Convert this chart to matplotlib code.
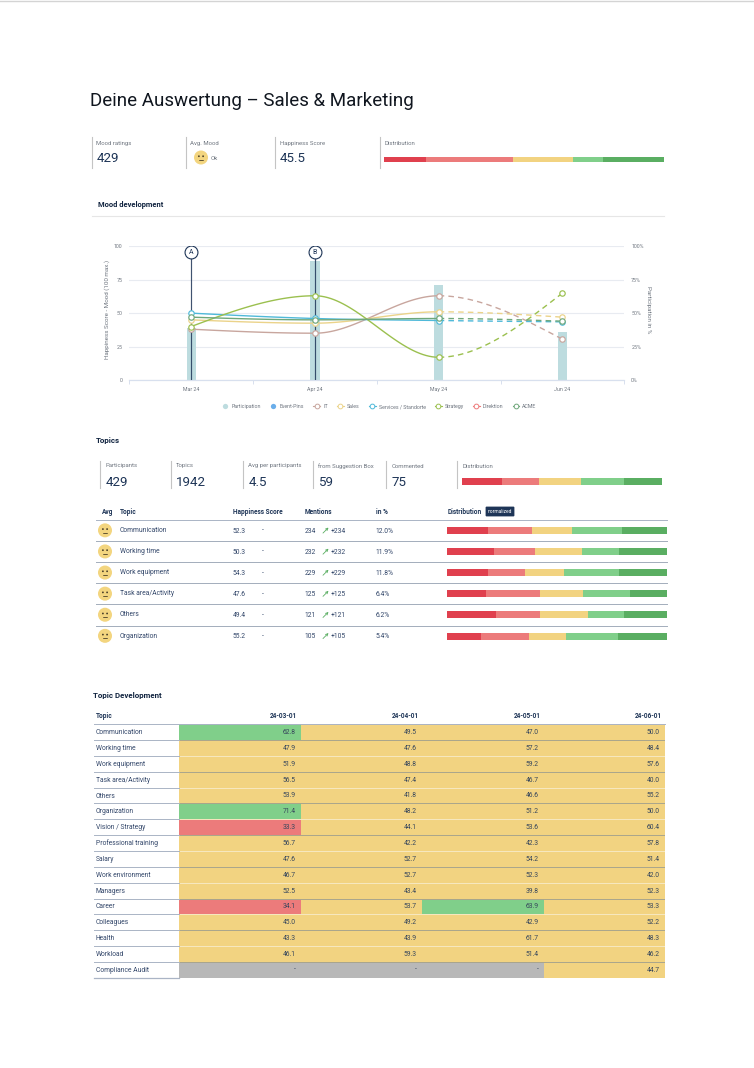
import numpy as np
import matplotlib
matplotlib.use("Agg")
import matplotlib.pyplot as plt
from matplotlib.colors import ListedColormap, BoundaryNorm
from matplotlib.lines import Line2D
from matplotlib.patches import Circle, FancyBboxPatch

plt.rcParams['font.family'] = ['Roboto', 'DejaVu Sans']

# ---------- data ----------
months = ["Mar 24", "Apr 24", "May 24", "Jun 24"]
participation = [39, 89, 71, 36]
pin_names = ["A", "B"]
pin_months = [0, 1]
pin_level = [95.5, 95.5]
series_it = [38, 35, 63, 30.5]
series_sales = [45, 42.5, 51, 47]
series_services = [50, 46, 44.5, 43.5]
series_strategy = [40, 63, 17, 65]
series_direktion = [np.nan, np.nan, np.nan, np.nan]
series_acme = [47, 45, 46, 44]

kpi1_labels = ["Mood ratings", "Avg. Mood", "Happiness Score", "Distribution"]
kpi1_values = ["429", "", "45.5", ""]
overall_dist = [15.0, 31.0, 21.4, 10.7, 21.9]

kpi2_labels = ["Participants", "Topics", "Avg per participants", "from Suggestion Box", "Commented", "Distribution"]
kpi2_values = ["429", "1942", "4.5", "59", "75", ""]
topics_dist = [20.0, 18.7, 20.9, 21.5, 18.9]

top_topics = ["Communication", "Working time", "Work equipment", "Task area/Activity", "Others", "Organization"]
top_scores = ["52.3", "50.3", "54.3", "47.6", "49.4", "55.2"]
top_mentions = [234, 232, 229, 125, 121, 105]
top_share = ["12.0%", "11.9%", "11.8%", "6.4%", "6.2%", "5.4%"]
top_dist = [
    [18.7, 20.1, 18.2, 22.5, 20.5],
    [21.3, 18.7, 21.4, 16.7, 21.9],
    [18.7, 16.7, 17.6, 25.2, 21.8],
    [17.6, 24.6, 19.8, 21.3, 16.7],
    [22.3, 19.8, 22.0, 16.4, 19.5],
    [15.2, 21.9, 17.0, 23.7, 22.2],
]

dev_dates = ["24-03-01", "24-04-01", "24-05-01", "24-06-01"]
dev_topics = ["Communication", "Working time", "Work equipment", "Task area/Activity", "Others",
              "Organization", "Vision / Strategy", "Professional training", "Salary",
              "Work environment", "Managers", "Career", "Colleagues", "Health", "Workload",
              "Compliance Audit"]
dev_mar = [62.8, 47.9, 51.9, 56.5, 53.9, 71.4, 33.3, 56.7, 47.6, 46.7, 52.5, 34.1, 45.0, 43.3, 46.1, np.nan]
dev_apr = [49.5, 47.6, 48.8, 47.4, 41.8, 48.2, 44.1, 42.2, 52.7, 52.7, 43.4, 53.7, 49.2, 43.9, 59.3, np.nan]
dev_may = [47.0, 57.2, 59.2, 46.7, 46.6, 51.2, 53.6, 42.3, 54.2, 52.3, 39.8, 63.9, 42.9, 61.7, 51.4, np.nan]
dev_jun = [50.0, 48.4, 57.6, 40.0, 55.2, 50.0, 60.4, 57.8, 51.4, 42.0, 52.3, 53.3, 52.2, 48.3, 46.2, 44.7]

# ---------- styles ----------
W, H = 754, 1068
NAVY = "#1e3557"
GREY = "#6f7680"
DIST_COLORS = ["#e0404e", "#ec7b7b", "#f2d381", "#80cf8a", "#5aae62"]
RULE = "#aab4c5"

fig = plt.figure(figsize=(W / 100, H / 100), dpi=100, facecolor="white")


def px_axes(left, top, right, bottom, **kw):
    return fig.add_axes([left / W, 1 - bottom / H, (right - left) / W, (bottom - top) / H], **kw)


ov = px_axes(0, 0, W, H)
ov.set_xlim(0, W)
ov.set_ylim(H, 0)
ov.axis("off")
ov.set_zorder(5)
ov.patch.set_alpha(0)


def T(x, y, s, size=5.0, color=NAVY, weight="normal", ha="left", va="center", **kw):
    return ov.text(x, y + 0.8, s, fontsize=size, color=color, fontweight=weight, ha=ha, va=va, **kw)


def face(x, y, r):
    ov.add_patch(Circle((x, y), r, fc="#f3d57f", ec="none"))
    for dx in (-0.3, 0.3):
        ov.add_patch(Circle((x + dx * r, y - 0.18 * r), 0.13 * r, fc="#4a3f28", ec="none"))
    ov.plot([x - 0.35 * r, x + 0.35 * r], [y + 0.35 * r, y + 0.35 * r], color="#4a3f28", lw=0.6,
            solid_capstyle="round")


def dist_bar(ax, rows, height):
    left = np.zeros(len(rows))
    arr = np.array(rows, dtype=float)
    for i, c in enumerate(DIST_COLORS):
        ax.barh(np.arange(len(rows)), arr[:, i], left=left, height=height, color=c, linewidth=0)
        left += arr[:, i]
    ax.set_xlim(0, left.max())
    ax.set_ylim(len(rows) - 0.5, -0.5)
    ax.axis("off")


def monotone_curve(x, y, n=40):
    x, y = np.asarray(x, float), np.asarray(y, float)
    h = np.diff(x)
    s = np.diff(y) / h
    m = np.zeros_like(y)
    for i in range(1, len(y) - 1):
        p = (s[i - 1] * h[i] + s[i] * h[i - 1]) / (h[i - 1] + h[i])
        m[i] = (np.sign(s[i - 1]) + np.sign(s[i])) * min(abs(s[i - 1]), abs(s[i]), 0.5 * abs(p))
    m[0] = (3 * s[0] - m[1]) / 2
    m[-1] = (3 * s[-1] - m[-2]) / 2
    xs, ys = [], []
    for i in range(len(h)):
        t = np.linspace(0, 1, n)
        a = (2 * t**3 - 3 * t**2 + 1) * y[i] + (t**3 - 2 * t**2 + t) * h[i] * m[i]
        b = (-2 * t**3 + 3 * t**2) * y[i + 1] + (t**3 - t**2) * h[i] * m[i + 1]
        xs.append(x[i] + t * h[i])
        ys.append(a + b)
    return xs, ys


# ---------- header ----------
ov.plot([0, W], [0.5, 0.5], color="#d4d4d4", lw=1)
T(90, 100.5, "Deine Auswertung \u2013 Sales & Marketing", size=13.5, color="#10161f")

for x, lab, val in zip([92, 186, 275, 380], kpi1_labels, kpi1_values):
    ov.plot([x, x], [137, 168], color="#c4c4c4", lw=0.8)
    T(x + 4.5, 143, lab, size=4.3, color=GREY)
    if val:
        T(x + 5, 158, val, size=9.6, color=NAVY)
face(201, 157.5, 7)
T(211, 158, "Ok", size=4.4, color=GREY)
dist_bar(px_axes(384, 157, 664, 162), [overall_dist], 1.0)

T(98, 204, "Mood development", size=5.4, weight="bold", color="#10233f")
ov.plot([92, 664], [215.5, 215.5], color="#e6e6e6", lw=0.8)

# ---------- mood chart ----------
ax = px_axes(129.3, 246.3, 624.3, 380)
ax.set_xlim(-0.5, 3.5)
ax.set_ylim(0, 100)
xpos = np.arange(len(months))
bars = ax.bar(xpos, participation, width=0.075, color="#bddcdf", linewidth=0, zorder=2, label="Participation")
ax.set_axisbelow(True)
ax.grid(axis="y", color="#e8ebf1", lw=0.8, zorder=0)
ax.set_xticks(xpos)
ax.set_xticklabels(months, fontsize=3.8, color=GREY)
ax.set_xticks(np.arange(-0.5, 4, 1), minor=True)
ax.tick_params(axis="x", which="major", length=0, pad=5)
ax.tick_params(axis="x", which="minor", length=3, color="#d8e0ee", width=0.7, direction="out")
for k in ("top", "left", "right"):
    ax.spines[k].set_visible(False)
ax.spines["bottom"].set_color("#d8e0ee")
ax.spines["bottom"].set_linewidth(0.9)

ln = ax.twinx()
ln.set_ylim(0, 100)
ln.set_xlim(-0.5, 3.5)
ln.yaxis.tick_left()
ln.set_yticks([0, 25, 50, 75, 100])
ln.set_yticklabels(["0", "25", "50", "75", "100"], fontsize=3.8, color=GREY)
ln.tick_params(axis="y", length=0, pad=5)
for s in ln.spines.values():
    s.set_visible(False)

ax.yaxis.tick_right()
ax.set_yticks([0, 25, 50, 75, 100])
ax.set_yticklabels(["0%", "25%", "50%", "75%", "100%"], fontsize=3.8, color=GREY)
ax.tick_params(axis="y", length=0, pad=5)

ln.vlines(pin_months, 0, pin_level, color=NAVY, lw=0.85, alpha=0.85, zorder=3)
ln.scatter(pin_months, pin_level, s=86, facecolor="white", edgecolor=NAVY, linewidth=0.8, zorder=6)
for mx, lv, nm in zip(pin_months, pin_level, pin_names):
    ln.text(mx, lv - 0.3, nm, fontsize=5, color=NAVY, ha="center", va="center", zorder=7)

all_series = [("IT", series_it, "#c8a69e"), ("Sales", series_sales, "#ebd38a"),
              ("Services / Standorte", series_services, "#4fb9d9"),
              ("Strategy", series_strategy, "#9bc04f"), ("Direktion", series_direktion, "#ee7c7c"),
              ("ACME", series_acme, "#6fa77b")]
handles = [Line2D([], [], ls="", marker="o", ms=3.8, mfc="#bddcdf", mec="none", label="Participation"),
           Line2D([], [], ls="", marker="o", ms=3.8, mfc="#6aaeea", mec="none", label="Event-Pins")]
for name, vals, col in all_series:
    handles.append(Line2D([], [], color=col, lw=0.8, marker="o", ms=3.4, mfc="white", mec=col, mew=0.7, label=name))
    if np.all(np.isnan(vals)):
        continue
    xs, ys = monotone_curve(xpos, vals)
    ln.plot(np.concatenate(xs[:2]), np.concatenate(ys[:2]), color=col, lw=1.0, zorder=4)
    ln.plot(xs[2], ys[2], color=col, lw=1.0, ls=(0, (4, 3)), zorder=4)
    ln.plot(xpos, vals, ls="", marker="o", ms=3.9, mfc="white", mec=col, mew=0.85, zorder=5)

T(107, 309, "Happiness Score - Mood (100 max.)", size=4.5, color=GREY, rotation=90, ha="center")
T(649, 309, "Participation in %", size=4.5, color=GREY, rotation=270, ha="center")
leg = ln.legend(handles=handles, ncols=8, loc="center", bbox_to_anchor=(379 / W, 1 - 406.7 / H),
                bbox_transform=fig.transFigure, frameon=False, fontsize=3.8, handlelength=1.3,
                handletextpad=0.55, columnspacing=1.75, borderpad=0)
for t in leg.get_texts():
    t.set_color(GREY)

# ---------- topics ----------
T(96, 440, "Topics", size=5.7, weight="bold", color="#10233f")
for x, lab, val in zip([100.3, 171.3, 243.3, 313.3, 386.3, 457.3], kpi2_labels, kpi2_values):
    ov.plot([x, x], [461, 487.7], color="#c4c4c4", lw=0.8)
    T(x + 5, 465.2, lab, size=4.3, color=GREY)
    if val:
        T(x + 5, 482, val, size=9.6, color=NAVY)
dist_bar(px_axes(462, 478.3, 661.7, 485), [topics_dist], 1.0)

for x, lab in zip([102, 119.7, 233, 304.3, 375.7, 447.3],
                  ["Avg", "Topic", "Happiness Score", "Mentions", "in %", "Distribution"]):
    T(x, 511, lab, size=4.7, weight="bold", color=NAVY)
ov.add_patch(FancyBboxPatch((486, 507), 28, 9, boxstyle="round,pad=0.4,rounding_size=1", fc=NAVY, ec="none"))
T(500, 510.7, "normalized", size=3.5, color="white", ha="center")

row_h = 21.1
table_top = 520.0
for i, (tp, sc, mn, sh) in enumerate(zip(top_topics, top_scores, top_mentions, top_share)):
    yc = table_top + (i + 0.5) * row_h
    ov.plot([96, 666.7], [table_top + i * row_h] * 2, color=RULE if i == 0 else "#a3adbb", lw=0.7)
    face(105, yc - 0.2, 7)
    T(119.7, yc - 0.8, tp, size=4.9, color="#33476a")
    T(233, yc - 0.3, sc, size=4.9, color="#33476a")
    T(262, yc - 0.3, "-", size=4.9, color="#33476a")
    T(304.3, yc - 0.3, str(mn), size=4.9, color="#33476a")
    ov.annotate("", xy=(328.5, yc - 3), xytext=(323, yc + 2.5),
                arrowprops=dict(arrowstyle="->", color="#5aae62", lw=0.6, mutation_scale=4,
                                shrinkA=0, shrinkB=0))
    T(330.7, yc - 0.3, f"+{mn}", size=4.9, color="#33476a")
    T(375.7, yc - 0.3, sh, size=4.9, color="#33476a")
dist_bar(px_axes(447.3, table_top, 666.7, table_top + 6 * row_h), top_dist, 7 / row_h)

# ---------- topic development ----------
T(93.3, 695, "Topic Development", size=5.7, weight="bold", color="#10233f")
T(95.7, 715.2, "Topic", size=4.7, weight="bold", color=NAVY)

hm_top, hm_bottom = 724.3, 977.7
hm = px_axes(179, hm_top, 665, hm_bottom)
matrix = np.ma.masked_invalid(np.array([dev_mar, dev_apr, dev_may, dev_jun]).T)
cmap = ListedColormap(["#ec7b7b", "#f2d381", "#80cf8a"])
cmap.set_bad("#b8b8b8")
norm = BoundaryNorm([0, 35, 62, 100], cmap.N)
hm.pcolormesh(np.arange(5), np.arange(len(dev_topics) + 1), matrix, cmap=cmap, norm=norm, linewidth=0)
hm.set_xlim(0, 4)
hm.set_ylim(len(dev_topics), 0)
hm.axis("off")
for r in range(matrix.shape[0]):
    for c in range(matrix.shape[1]):
        v = matrix[r, c]
        hm.annotate("-" if np.ma.is_masked(v) else f"{v:.1f}", xy=(c + 1, r + 0.5), xytext=(-3.6, -0.3),
                    textcoords="offset points", ha="right", va="center", fontsize=4.9, color="#36465c")
    if r:
        hm.axhline(r, color="#a9a58c" if r % 2 else "#f7e8c0", lw=0.7)

step = (hm_bottom - hm_top) / len(dev_topics)
for i, tp in enumerate(dev_topics):
    T(95.7, hm_top + (i + 0.5) * step - 0.3, tp, size=4.9, color="#33476a")
    ov.plot([93.5, 179], [hm_top + i * step] * 2, color=RULE, lw=0.7)
ov.plot([93.5, 179], [hm_bottom, hm_bottom], color=RULE, lw=0.9)
ov.plot([179, 665], [hm_top, hm_top], color=RULE, lw=0.7)
for x, d in zip([297, 419.3, 540.7, 662], dev_dates):
    T(x, 715.2, d, size=4.7, weight="bold", color=NAVY, ha="right")

fig.savefig("out.png", dpi=100, facecolor="white")
